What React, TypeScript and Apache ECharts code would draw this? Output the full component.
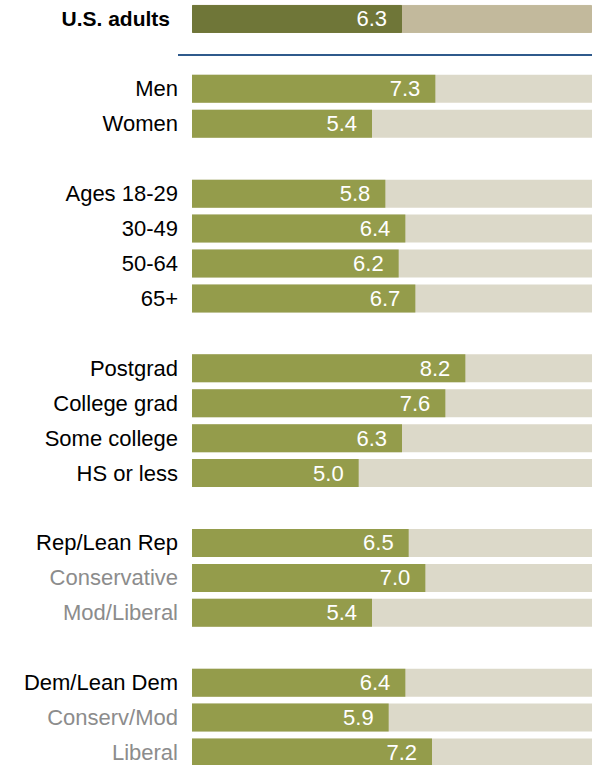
import React, { useEffect, useRef } from "react";
import * as echarts from "echarts";

const categories: string[] = [
  "U.S. adults", "",
  "Men", "Women", "",
  "Ages 18-29", "30-49", "50-64", "65+", "",
  "Postgrad", "College grad", "Some college", "HS or less", "",
  "Rep/Lean Rep", "Conservative", "Mod/Liberal", "",
  "Dem/Lean Dem", "Conserv/Mod", "Liberal",
];
const values: (number | null)[] = [
  6.3, null,
  7.3, 5.4, null,
  5.8, 6.4, 6.2, 6.7, null,
  8.2, 7.6, 6.3, 5.0, null,
  6.5, 7.0, 5.4, null,
  6.4, 5.9, 7.2,
];
const grayLabels: string[] = ["Conservative", "Mod/Liberal", "Conserv/Mod", "Liberal"];
const boldLabels: string[] = ["U.S. adults"];
const scaleMax = 12;

const FONT = "Liberation Sans";

export default function App() {
  const ref = useRef<HTMLDivElement>(null);
  useEffect(() => {
    if (!ref.current) return;
    const chart = echarts.init(ref.current, undefined, { renderer: "svg" });
    const isBold = (i: number) => boldLabels.includes(categories[i]);
    const bgData = values.map((v, i) =>
      v === null
        ? null
        : {
            value: scaleMax,
            itemStyle: isBold(i)
              ? { color: "#c2b99c", borderColor: "#c2b99c", borderWidth: 1 }
              : { color: "#dcd9c9" },
          }
    );
    const fgData = values.map((v, i) =>
      v === null
        ? null
        : {
            value: v,
            itemStyle: isBold(i)
              ? { color: "#6f7638", borderColor: "#6f7638", borderWidth: 1 }
              : { color: "#949c4b" },
          }
    );
    chart.setOption({
      animation: false,
      grid: { left: 192, right: 0, top: 1.5, height: 768.5 },
      xAxis: { type: "value", min: 0, max: scaleMax, show: false },
      yAxis: {
        type: "category",
        inverse: true,
        data: categories,
        axisLine: { show: false },
        axisTick: { show: false },
        splitLine: { show: false },
        axisLabel: {
          margin: 14,
          fontFamily: FONT,
          fontSize: 22,
          color: "#000",
          formatter: (v: string) => {
            if (!v) return "";
            if (boldLabels.includes(v)) return `{b|${v}}`;
            if (grayLabels.includes(v)) return `{g|${v}}`;
            return `{n|${v}}`;
          },
          rich: {
            b: { fontFamily: FONT, fontSize: 21, fontWeight: "bold", color: "#000", padding: [0, 8, 0, 0] },
            g: { fontFamily: FONT, fontSize: 22, color: "#8c8c8c" },
            n: { fontFamily: FONT, fontSize: 22, color: "#000" },
          },
        },
      },
      series: [
        {
          type: "bar",
          data: bgData,
          barWidth: 28,
          barGap: "-100%",
          silent: true,
        },
        {
          type: "bar",
          data: fgData,
          barWidth: 28,
          barGap: "-100%",
          label: {
            show: true,
            position: "insideRight",
            distance: 15,
            color: "#fff",
            fontFamily: FONT,
            fontSize: 22,
            formatter: (p: any) => Number(p.value).toFixed(1),
          },
        },
      ],
      graphic: [
        {
          type: "line",
          shape: { x1: 178, y1: 55, x2: 592, y2: 55 },
          style: { stroke: "#2f5a8c", lineWidth: 2 },
        },
      ],
    });
    return () => chart.dispose();
  }, []);
  return (
    <div style={{ position: "absolute", left: 0, top: 0, width: 592, height: 765, overflow: "hidden", background: "#fff" }}>
      <div ref={ref} style={{ width: 592, height: 772 }} />
    </div>
  );
}
